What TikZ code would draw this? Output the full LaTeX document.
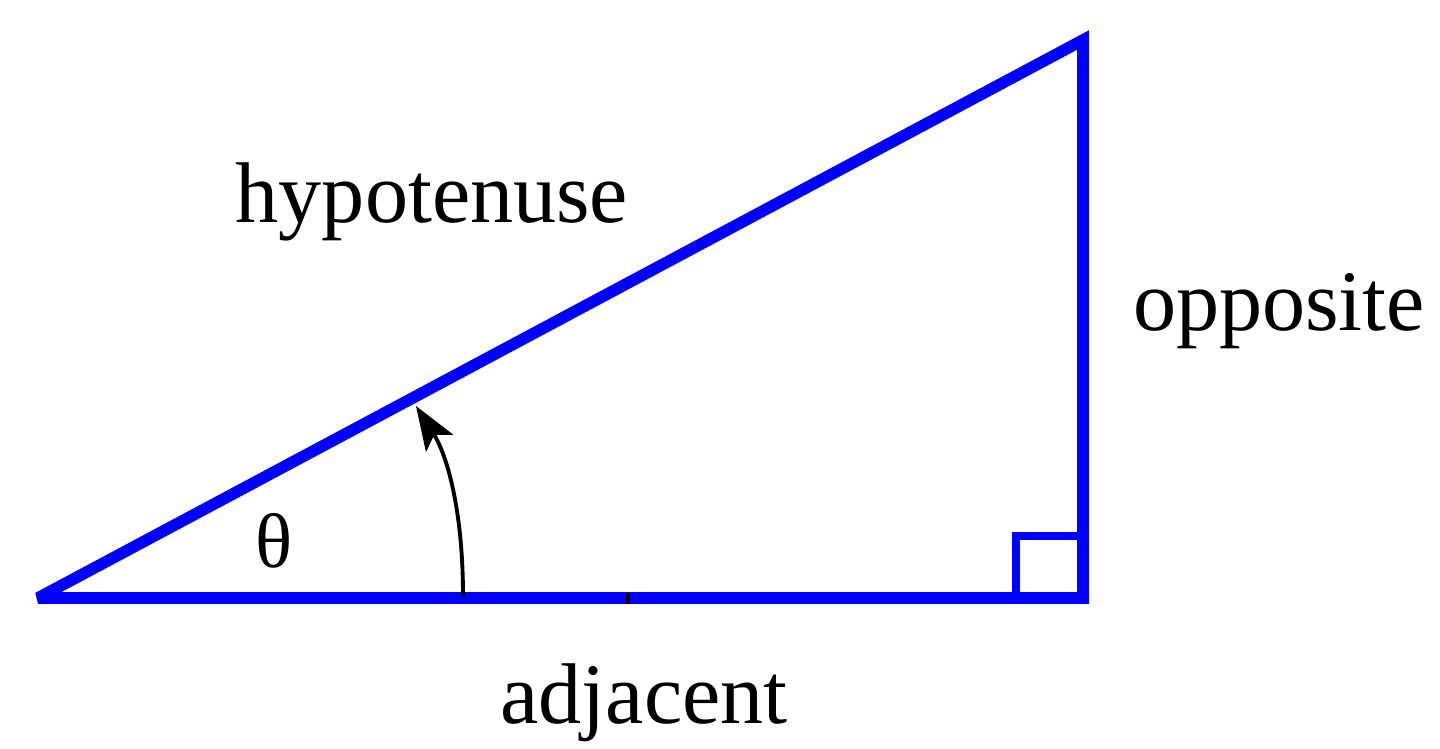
\documentclass[tikz,border=0pt]{standalone}
\usepackage{fontspec}
\setmainfont{Liberation Serif}
\usetikzlibrary{arrows.meta}

\tikzset{
	side/.style={draw=blue, line width=3.3pt},
	sidetxt/.style={anchor=base, inner sep=0pt, font=\fontsize{24.5}{28}\selectfont}
}

\begin{document}
\begin{tikzpicture}[x=0.01cm, y=-0.01cm]
	\useasboundingbox (0,0) rectangle (1440,748);
	\coordinate (A) at (38,598);
	\coordinate (B) at (1083,598);
	\coordinate (C) at (1083,40);
	\draw [side, line join=miter, miter limit=2] (A) -- (B) -- (C) -- cycle;
	\draw [draw=blue, line width=2.4pt] (1016,598) -- (1016,536) -- (B |- 0,536);
	\draw [black, line width=1pt] (628,593) -- (628,604);
	\coordinate (foot) at (463,596);
	\coordinate (tip) at (416,406);
	\draw [black, line width=1.1pt, -{Stealth[length=0.44cm, width=0.32cm, inset=0.1cm]}] (foot) .. controls (463,510) and (447,455) .. (tip);
	\node [sidetxt] (hyp) at (432,222) {hypotenuse};
	\node [sidetxt] (opp) at (1279,330) {opposite};
	\node [sidetxt] (adj) at (644,723) {adjacent};
	\node [sidetxt, font=\fontsize{22}{26}\selectfont] (theta) at (274,567) {θ};
\end{tikzpicture}
\end{document}
